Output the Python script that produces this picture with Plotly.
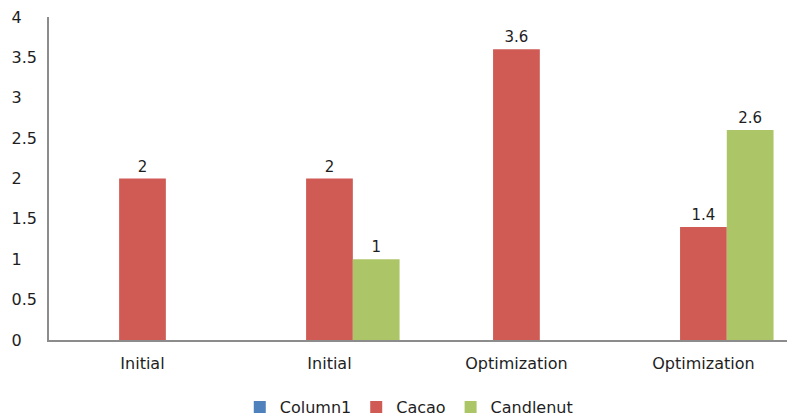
import plotly.graph_objects as go

categories = ["Initial", "Initial", "Optimization", "Optimization"]
column1 = [None, None, None, None]
cacao = [2, 2, 3.6, 1.4]
candlenut = [None, 1, None, 2.6]
y_ticks = [0, 0.5, 1, 1.5, 2, 2.5, 3, 3.5, 4]

positions = list(range(len(categories)))
NB = "\u00a0"

def labels(vals):
    return [("" if v is None else f"{v:g}") for v in vals]

def tick_label(v):
    s = f"{v:g}"
    # pad so the labels line up on the left like the original
    return s if "." in s else s + NB * 3

font = "DejaVu Sans"
fig = go.Figure()
fig.add_trace(go.Bar(name="Column1", x=positions, y=column1,
                     marker=dict(color="#4F81BD", line=dict(width=0))))
fig.add_trace(go.Bar(name="Cacao", x=positions, y=cacao, text=labels(cacao),
                     textposition="outside", cliponaxis=False,
                     textfont=dict(size=15, color="#1e1e1e", family=font),
                     marker=dict(color="#CF5B54", line=dict(width=0))))
fig.add_trace(go.Bar(name="Candlenut", x=positions, y=candlenut, text=labels(candlenut),
                     textposition="outside", cliponaxis=False,
                     textfont=dict(size=15, color="#1e1e1e", family=font),
                     marker=dict(color="#ACC566", line=dict(width=0))))

fig.update_layout(
    width=787, height=418,
    margin=dict(l=49, r=0, t=17, b=78),
    paper_bgcolor="white", plot_bgcolor="white",
    barmode="group", bargap=0.25, bargroupgap=0,
    font=dict(family=font, size=16, color="#1e1e1e"),
    showlegend=True,
    legend=dict(orientation="h", x=0.4875, xanchor="center",
                yref="container", y=0.026, yanchor="middle",
                font=dict(size=16, color="#1e1e1e"), itemwidth=30, traceorder="normal"),
    xaxis=dict(tickmode="array", tickvals=positions, ticktext=categories,
               range=[-0.5, 3.447], showline=True, linecolor="#8C8C8C", linewidth=1.5,
               showgrid=False, zeroline=False, ticks="", ticklabelstandoff=8),
    yaxis=dict(range=[0, 4], tickmode="array", tickvals=y_ticks,
               ticktext=[tick_label(v) for v in y_ticks],
               showline=True, linecolor="#8C8C8C", linewidth=1.5,
               showgrid=False, zeroline=False, ticks="", ticklabelstandoff=7),
)
fig.write_html("out.html")
